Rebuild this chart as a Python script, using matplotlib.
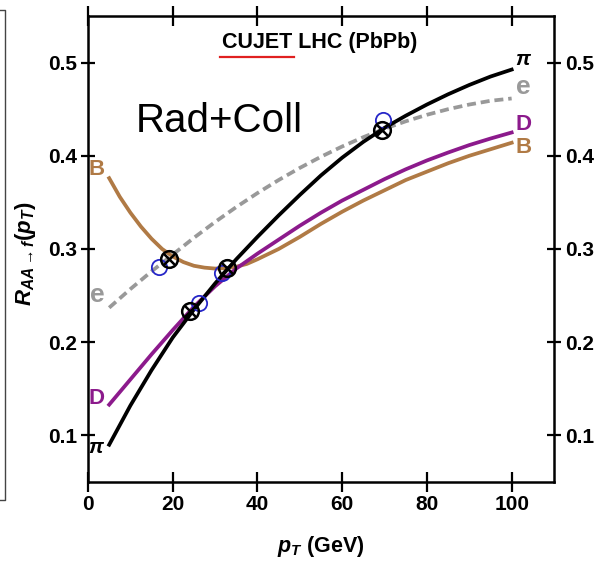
import numpy as np
import matplotlib
matplotlib.use("Agg")
import matplotlib.pyplot as plt
from matplotlib.lines import Line2D

plt.rcParams['font.family'] = ['Liberation Sans', 'DejaVu Sans']
plt.rcParams['mathtext.fontset'] = 'custom'
plt.rcParams['mathtext.it'] = 'Liberation Sans:bold:italic'
plt.rcParams['mathtext.rm'] = 'Liberation Sans:bold'
plt.rcParams['mathtext.bf'] = 'Liberation Sans:bold'

# courbes R_AA(pT)
pt_pi = [5, 10, 15, 20, 25, 30, 35, 40, 45, 50, 55, 60, 65, 70, 75, 80, 85, 90, 95, 100]
raa_pi = [0.090, 0.132, 0.170, 0.205, 0.235, 0.263, 0.289, 0.313, 0.336, 0.358,
          0.379, 0.398, 0.415, 0.430, 0.443, 0.455, 0.466, 0.476, 0.485, 0.4925]

pt_e = [5, 10, 15, 20, 25, 30, 35, 40, 45, 50, 55, 60, 65, 70, 75, 80, 85, 90, 95, 100]
raa_e = [0.237, 0.257, 0.276, 0.294, 0.312, 0.329, 0.345, 0.360, 0.374, 0.387,
         0.399, 0.410, 0.420, 0.429, 0.437, 0.444, 0.450, 0.455, 0.459, 0.4615]

pt_D = [5, 10, 15, 20, 25, 30, 35, 40, 45, 50, 55, 60, 65, 70, 75, 80, 85, 90, 95, 100]
raa_D = [0.133, 0.160, 0.187, 0.213, 0.238, 0.260, 0.279, 0.295, 0.310, 0.325,
         0.339, 0.352, 0.3635, 0.375, 0.3855, 0.395, 0.4035, 0.4115, 0.4185, 0.425]

pt_B = [5, 7.5, 10, 12.5, 15, 17.5, 20, 22.5, 25, 27.5, 30, 32.5, 35, 37.5, 40, 45,
        50, 55, 60, 65, 70, 75, 80, 85, 90, 95, 100]
raa_B = [0.376, 0.356, 0.339, 0.324, 0.311, 0.300, 0.292, 0.286, 0.282, 0.280, 0.279,
         0.2795, 0.281, 0.284, 0.289, 0.300, 0.313, 0.327, 0.340, 0.352, 0.363, 0.374,
         0.383, 0.392, 0.400, 0.407, 0.414]

# points de croisement
cross_x = [19.2, 24.1, 32.8, 69.4]
cross_y = [0.289, 0.233, 0.280, 0.428]
blue_x = [16.8, 26.2, 31.6, 69.7]
blue_y = [0.281, 0.242, 0.274, 0.438]

c_pi = 'black'
c_e = '#999999'
c_D = '#8c1a8c'
c_B = '#b07a45'

fig = plt.figure(figsize=(5.97, 5.61), dpi=100)
ax = fig.add_axes([0.1474, 0.1408, 0.7806, 0.8307])

ax.plot(pt_B, raa_B, color=c_B, lw=2.7, zorder=2)
ax.plot(pt_D, raa_D, color=c_D, lw=2.7, zorder=2)
ax.plot(pt_e, raa_e, color=c_e, lw=2.7, ls=(0, (2.4, 1.3)), zorder=2)
ax.plot(pt_pi, raa_pi, color=c_pi, lw=2.7, zorder=3)

ax.plot(blue_x, blue_y, 'o', ms=11, mfc='none', mec='#2626c8', mew=1.3, zorder=4)
ax.plot(cross_x, cross_y, 'o', ms=12, mfc='none', mec='black', mew=1.8, zorder=5)
ax.plot(cross_x, cross_y, 'x', ms=8.5, mec='black', mew=1.8, zorder=5)

ax.set_xlim(0, 110)
ax.set_ylim(0.05, 0.55)
ax.set_xticks([0, 20, 40, 60, 80, 100])
ax.set_yticks([0.1, 0.2, 0.3, 0.4, 0.5])
ax.tick_params(direction='inout', width=1.6, labelsize=15)
ax.tick_params(axis='x', length=14, top=True, pad=2)
ax.tick_params(axis='y', length=10, right=True, labelright=True, pad=3)
for lab in ax.get_xticklabels() + ax.get_yticklabels():
    lab.set_fontweight('bold')
for s in ax.spines.values():
    s.set_linewidth(1.8)

# étiquettes des courbes
kw = dict(fontsize=16, fontweight='bold', ha='center', va='center')
kw_e = dict(fontsize=19, fontweight='bold', ha='center', va='center')
ax.text(2.1, 0.385, 'B', color=c_B, **kw)
ax.text(2.1, 0.251, 'e', color=c_e, **kw_e)
ax.text(2.1, 0.140, 'D', color=c_D, **kw)
ax.text(1.9, 0.087, r'$\pi$', color=c_pi, fontsize=15, ha='center', va='center')
ax.text(102.8, 0.503, r'$\pi$', color=c_pi, fontsize=15, ha='center', va='center')
ax.text(102.8, 0.474, 'e', color=c_e, **kw_e)
ax.text(102.8, 0.434, 'D', color=c_D, **kw)
ax.text(102.8, 0.409, 'B', color=c_B, **kw)

ax.text(0.498, 0.931, 'CUJET LHC (PbPb)', transform=ax.transAxes, fontsize=15.5,
        fontweight='bold', ha='center', va='baseline')
ax.plot([0.283, 0.442], [0.912, 0.912], color='#e02020', lw=1.6, transform=ax.transAxes,
        clip_on=False)
ax.text(0.281, 0.751, 'Rad+Coll', transform=ax.transAxes, fontsize=29,
        ha='center', va='baseline')

ax.set_xlabel(r'$p_T$ (GeV)', fontsize=15.5, fontweight='bold')
ax.set_ylabel(r'$R_{AA\to f}(p_T)$', fontsize=16)
ax.xaxis.set_label_coords(0.5, -0.112)
ax.yaxis.set_label_coords(-0.107, 0.491)

# bord de cadre coupé à gauche
fig.add_artist(Line2D([0, 5 / 597, 5 / 597, 0],
                      [1 - 10 / 561, 1 - 10 / 561, 1 - 500 / 561, 1 - 500 / 561],
                      transform=fig.transFigure, color='#444444', lw=1.0))

fig.savefig('out.png', dpi=100)
